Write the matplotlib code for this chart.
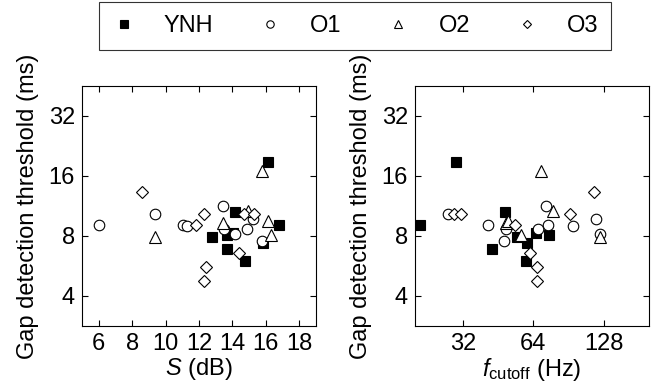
import matplotlib
matplotlib.use("Agg")
import matplotlib.pyplot as plt
from matplotlib.ticker import FixedLocator, FixedFormatter, NullLocator
from matplotlib import font_manager as fm

names = {f.name for f in fm.fontManager.ttflist}
NARROW = 'Liberation Sans Narrow' if 'Liberation Sans Narrow' in names else 'Liberation Sans'

plt.rcParams['font.family'] = [NARROW, 'DejaVu Sans']
plt.rcParams['mathtext.fontset'] = 'custom'
plt.rcParams['mathtext.rm'] = NARROW
plt.rcParams['mathtext.it'] = NARROW + ':italic'

# ---- data ----
ynh_S = [16.15, 14.14, 16.77, 12.77, 13.70, 14.06, 15.81, 13.66, 14.76]
ynh_f = [29.9, 48.4, 21.1, 54.6, 74.6, 66.0, 60.5, 42.6, 59.6]
ynh_g = [18.9, 10.58, 9.12, 7.90, 8.09, 8.31, 7.38, 6.86, 5.99]

o1_S = [6.0, 9.36, 11.03, 11.27, 13.43, 13.50, 14.16, 14.90, 15.25, 15.75]
o1_f = [40.9, 27.6, 74.2, 94.7, 72.8, 67.4, 123.0, 48.9, 118.3, 48.0]
o1_g = [9.10, 10.35, 9.10, 9.00, 11.31, 8.70, 8.20, 8.65, 9.68, 7.56]

o2_S = [15.77, 14.92, 13.43, 16.15, 9.36, 16.31]
o2_f = [68.9, 77.8, 49.0, 50.0, 123.9, 57.0]
o2_g = [16.95, 10.70, 9.33, 9.51, 7.95, 8.10]

o3_S = [8.61, 12.27, 11.83, 12.43, 12.31, 14.42, 14.70, 15.30]
o3_f = [116.4, 29.4, 53.5, 66.2, 66.2, 62.0, 31.4, 91.7]
o3_g = [13.35, 10.33, 9.12, 5.59, 4.73, 6.55, 10.30, 10.30]

groups = ["YNH", "O1", "O2", "O3"]
y_ticks = [4, 8, 16, 32]
s_ticks = [6, 8, 10, 12, 14, 16, 18]
f_ticks = [32, 64, 128]

series = [
    (ynh_S, ynh_f, ynh_g, dict(marker='s', ms=7.6, mfc='black', mec='black', mew=0.8)),
    (o1_S, o1_f, o1_g, dict(marker='o', ms=7.6, mfc='white', mec='black', mew=0.8)),
    (o2_S, o2_f, o2_g, dict(marker='^', ms=8.5, mfc='white', mec='black', mew=0.8)),
    (o3_S, o3_f, o3_g, dict(marker='D', ms=6.2, mfc='white', mec='black', mew=0.8)),
]

W, H = 654, 390
fig = plt.figure(figsize=(W/100, H/100), dpi=100)
axL = fig.add_axes([82/W, 64/H, 234/W, 240/H])
axR = fig.add_axes([415/W, 64/H, 234/W, 240/H])

FS = 17
for (S, f, g, st), name in zip(series, groups):
    axL.plot(S, g, linestyle='none', **st)
    axR.plot(f, g, linestyle='none', **st)

for ax in (axL, axR):
    ax.set_yscale('log', base=2)
    ax.set_ylim(2 ** 1.5, 2 ** 5.5)
    ax.yaxis.set_major_locator(FixedLocator(y_ticks))
    ax.yaxis.set_major_formatter(FixedFormatter([str(v) for v in y_ticks]))
    ax.yaxis.set_minor_locator(NullLocator())
    ax.tick_params(direction='in', top=True, right=True, length=4.5, width=0.8,
                   labelsize=FS, pad=5)
    for sp in ax.spines.values():
        sp.set_linewidth(0.8)
    ax.set_ylabel("Gap detection threshold (ms)", fontsize=17,
                  family=['Liberation Sans', 'DejaVu Sans'], labelpad=7)

axL.set_xlim(5, 19)
axL.xaxis.set_major_locator(FixedLocator(s_ticks))
axL.set_xlabel("$S$ (dB)", fontsize=FS, labelpad=1)

axR.set_xscale('log', base=2)
axR.set_xlim(20, 200)
axR.xaxis.set_major_locator(FixedLocator(f_ticks))
axR.xaxis.set_major_formatter(FixedFormatter([str(v) for v in f_ticks]))
axR.xaxis.set_minor_locator(NullLocator())
axR.set_xlabel(r"$f_{\mathrm{cutoff}}$ (Hz)", fontsize=FS, labelpad=1)

leg_handles = []
for (S, f, g, st), name in zip(series, groups):
    st2 = dict(st)
    st2['ms'] = st['ms'] * 0.7
    h, = axL.plot([], [], linestyle='none', **st2)
    leg_handles.append(h)

leg = fig.legend(handles=leg_handles, labels=groups, loc='upper center',
                 bbox_to_anchor=(355/W, 1 - 2/H), ncol=4, fontsize=FS,
                 frameon=True, fancybox=False, edgecolor='black',
                 handlelength=1.0, handletextpad=1.2, columnspacing=1.9,
                 borderpad=0.55, borderaxespad=0)
leg.get_frame().set_linewidth(0.8)

fig.savefig("out.png", dpi=100)
